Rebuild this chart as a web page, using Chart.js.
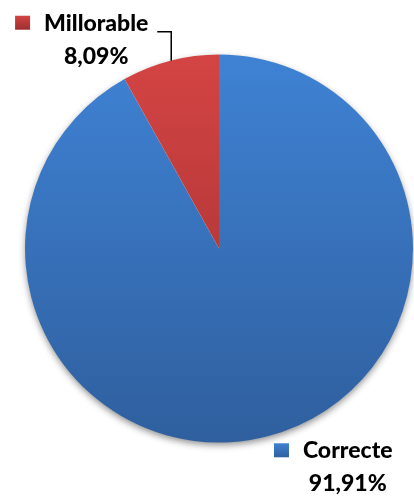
<!DOCTYPE html>
<html>
<head>
<meta charset="utf-8">
<script src="https://cdn.jsdelivr.net/npm/chart.js@4.4.0/dist/chart.umd.min.js"></script>
<style>
  html, body { margin: 0; padding: 0; background: #ffffff; }
  #wrap { position: relative; width: 414px; height: 497px; }
</style>
</head>
<body>
<div id="wrap"><canvas id="pieChart"></canvas></div>
<script>
// --- DATA ---
const categories = ['Correcte', 'Millorable'];
const percentages = [91.91, 8.09];

// --- COLORS (top / bottom of the vertical gradient) ---
const sliceColors = [
    { top: '#3f82d4', bottom: '#2f5f9e', marker: '#3a74c4' },
    { top: '#d44444', bottom: '#9e2e2e', marker: '#c23a3a' }
];

const labelFont = '900 23px Lato, "Open Sans", sans-serif';

// where each label sits, relative to the slice's outer mid point
const labelPlacement = [
    { dx: 80, dy: 22, leader: false },
    { dx: -74, dy: -30, leader: true }
];

function formatPct(v) {
    return v.toFixed(2).replace('.', ',') + '%';
}

function sliceGradient(context) {
    const chart = context.chart;
    const area = chart.chartArea;
    const c = sliceColors[context.dataIndex];
    if (!area) return c.marker;
    const g = chart.ctx.createLinearGradient(0, area.top, 0, area.bottom);
    g.addColorStop(0, c.top);
    g.addColorStop(1, c.bottom);
    return g;
}

// soft shadow under the whole pie
const pieShadow = {
    id: 'pieShadow',
    beforeDatasetsDraw(chart) {
        const arc = chart.getDatasetMeta(0).data[0];
        if (!arc) return;
        const ctx = chart.ctx;
        ctx.save();
        ctx.shadowColor = 'rgba(0,0,0,0.45)';
        ctx.shadowBlur = 7;
        ctx.shadowOffsetY = 3;
        ctx.fillStyle = '#ffffff';
        ctx.beginPath();
        ctx.arc(arc.x, arc.y, arc.outerRadius - 0.5, 0, Math.PI * 2);
        ctx.fill();
        ctx.restore();
    }
};

// outside labels with marker square, value below
const sliceLabels = {
    id: 'sliceLabels',
    afterDatasetsDraw(chart) {
        const ctx = chart.ctx;
        const meta = chart.getDatasetMeta(0);
        meta.data.forEach((arc, i) => {
            const mid = (arc.startAngle + arc.endAngle) / 2;
            const ex = arc.x + Math.cos(mid) * arc.outerRadius;
            const ey = arc.y + Math.sin(mid) * arc.outerRadius;
            const p = labelPlacement[i];
            const cx = ex + p.dx;
            const by = ey + p.dy;

            ctx.save();
            ctx.font = labelFont;
            ctx.fillStyle = '#000000';
            ctx.textBaseline = 'alphabetic';
            ctx.textAlign = 'center';
            const name = categories[i];
            const w = ctx.measureText(name).width;
            ctx.fillText(name, cx, by);
            ctx.fillText(formatPct(percentages[i]), cx, by + 33);

            // marker square
            const mx = cx - w / 2 - 29;
            const grad = ctx.createLinearGradient(0, by - 15, 0, by - 1);
            grad.addColorStop(0, sliceColors[i].top);
            grad.addColorStop(1, sliceColors[i].bottom);
            ctx.fillStyle = grad;
            ctx.fillRect(mx, by - 15, 15, 14);

            if (p.leader) {
                ctx.strokeStyle = '#000000';
                ctx.lineWidth = 1.5;
                ctx.beginPath();
                ctx.moveTo(ex + 1, ey);
                ctx.lineTo(ex + 1, ey - 29);
                ctx.lineTo(ex - 13, ey - 29);
                ctx.stroke();
            }
            ctx.restore();
        });
    }
};

const ctxPie = document.getElementById('pieChart').getContext('2d');
const pieChart = new Chart(ctxPie, {
    type: 'pie',
    data: {
        labels: categories,
        datasets: [{
            data: percentages,
            backgroundColor: sliceGradient,
            borderWidth: 0,
            hoverOffset: 0,
            offset: 0
        }]
    },
    options: {
        responsive: true,
        maintainAspectRatio: false,
        animation: false,
        layout: {
            padding: { left: 25, right: 1, top: 54, bottom: 54 }
        },
        plugins: {
            legend: { display: false },
            tooltip: { enabled: false }
        }
    },
    plugins: [pieShadow, sliceLabels]
});
</script>
</body>
</html>
